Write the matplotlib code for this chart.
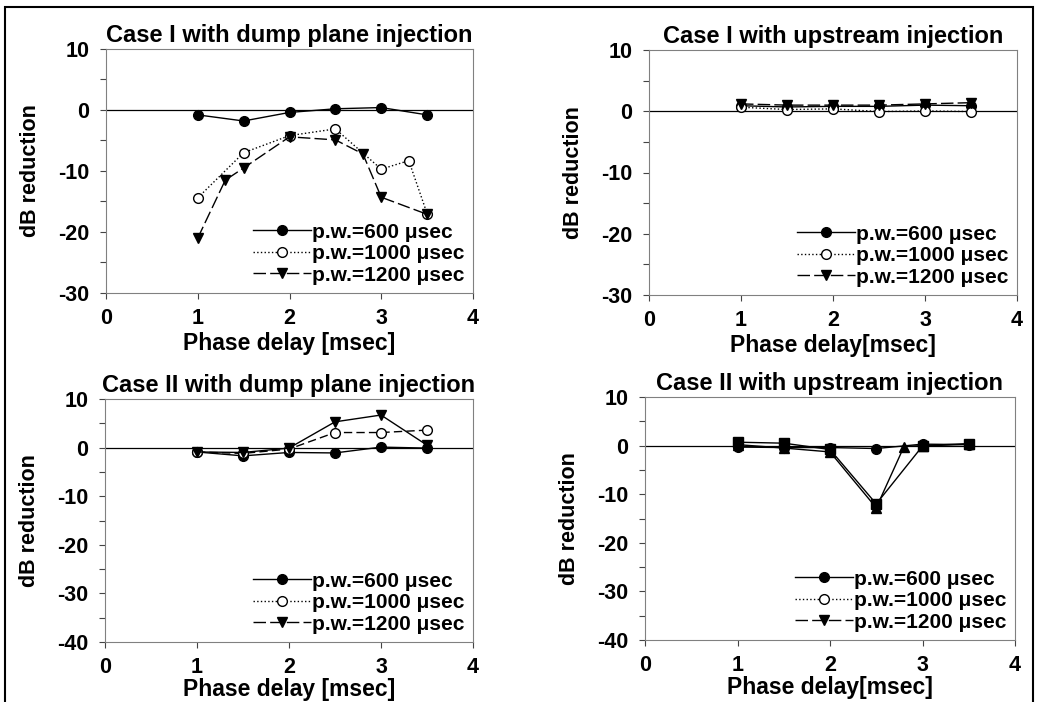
import matplotlib.pyplot as plt
from matplotlib.lines import Line2D
from matplotlib.patches import Rectangle

plt.rcParams['font.family'] = ['Liberation Sans', 'DejaVu Sans']
plt.rcParams['font.weight'] = 'bold'

# ── Data ──────────────────────────────────────────────────────────────────────
# Case I, dump plane injection
c1d_x600 = [1.0, 1.5, 2.0, 2.5, 3.0, 3.5]
c1d_y600 = [-0.8, -1.8, -0.4, 0.2, 0.4, -0.8]
c1d_x1000 = [1.0, 1.5, 2.0, 2.5, 3.0, 3.3, 3.5]
c1d_y1000 = [-14.4, -7.0, -4.2, -3.1, -9.7, -8.3, -17.0]
c1d_x1200 = [1.0, 1.3, 1.5, 2.0, 2.5, 2.8, 3.0, 3.5]
c1d_y1200 = [-21.0, -11.5, -9.5, -4.4, -4.9, -7.2, -14.3, -17.1]

# Case I, upstream injection
c1u_x = [1.0, 1.5, 2.0, 2.5, 3.0, 3.5]
c1u_y600 = [0.9, 0.7, 0.8, 0.8, 1.0, 0.9]
c1u_y1000 = [0.66, 0.28, 0.39, -0.05, 0.05, -0.05]
c1u_y1200 = [1.2, 1.0, 1.0, 1.0, 1.2, 1.4]

# Case II, dump plane injection
c2d_x = [1.0, 1.5, 2.0, 2.5, 3.0, 3.5]
c2d_y600 = [-0.9, -1.7, -1.0, -1.1, 0.1, -0.1]
c2d_y1000 = [-0.9, -1.2, -0.3, 3.1, 3.1, 3.6]
c2d_y1200 = [-0.9, -1.0, -0.1, 5.3, 6.7, 0.5]

# Case II, upstream injection
c2u_x600 = [1.0, 1.5, 2.0, 2.5, 3.0, 3.5]
c2u_y600 = [-0.3, -0.4, -0.4, -0.6, 0.3, 0.2]
c2u_x1000 = [1.0, 1.5, 2.0, 2.5, 3.0, 3.5]
c2u_y1000 = [0.7, 0.5, -0.8, -12.0, -0.1, 0.3]
c2u_x1200 = [1.0, 1.5, 2.0, 2.5, 2.8, 3.0, 3.5]
c2u_y1200 = [0.2, -0.5, -1.3, -12.8, -0.2, 0.0, 0.4]

labels = ["p.w.=600 \u03bcsec", "p.w.=1000 \u03bcsec", "p.w.=1200 \u03bcsec"]

# ── Styles ────────────────────────────────────────────────────────────────────
DASH = (0, (9, 3))
s600 = dict(color="black", lw=1.0, ls="-", marker="o", ms=7, mfc="black", mec="black")
s1000 = dict(color="black", lw=1.0, ls=":", marker="o", ms=7, mfc="white", mec="black")
s1200 = dict(color="black", lw=1.0, ls=DASH, marker="v", ms=7, mfc="black", mec="black")

fig = plt.figure(figsize=(10.39, 7.02), dpi=100)
W, H = 1039, 702


def make_axes(l, r, t, b):
    return fig.add_axes([l / W, 1 - b / H, (r - l) / W, (b - t) / H])


def setup(ax, title, xlabel, ylim, xlabelpad=2):
    ax.set_xlim(0, 4)
    ax.set_ylim(*ylim)
    ax.set_xticks([0, 1, 2, 3, 4])
    yt = list(range(ylim[0], ylim[1] + 1, 5))
    ax.set_yticks(yt)
    ax.set_yticklabels([str(v) if v % 10 == 0 else "" for v in yt])
    ax.tick_params(labelsize=15.5, length=4, width=0.8, direction="out", color="#444444")
    ax.tick_params(axis="x", pad=7)
    ax.tick_params(axis="y", pad=8)
    for lab in ax.get_xticklabels() + ax.get_yticklabels():
        lab.set_fontweight("bold")
    for sp in ax.spines.values():
        sp.set_color("#808080")
        sp.set_linewidth(0.8)
    ax.axhline(0, color="black", lw=0.9, zorder=1)
    ax.set_title(title, fontsize=17, fontweight="bold", pad=5)
    ax.set_xlabel(xlabel, fontsize=16.5, fontweight="bold", labelpad=xlabelpad)
    ax.set_ylabel("dB reduction", fontsize=15.5, fontweight="bold", labelpad=12)
    handles = [Line2D([], [], **s600), Line2D([], [], **s1000), Line2D([], [], **s1200)]
    ax.legend(handles, labels, loc="lower right", frameon=False,
              prop=dict(weight="bold", size=15), handlelength=2.8, handletextpad=0.05,
              labelspacing=0.12, borderaxespad=0.1, borderpad=0.3)


# Case I dump plane
ax1 = make_axes(106, 473, 49, 293)
ax1.plot(c1d_x600, c1d_y600, **s600)
ax1.plot(c1d_x1000, c1d_y1000, **s1000)
ax1.plot(c1d_x1200, c1d_y1200, **s1200)
setup(ax1, "Case I with dump plane injection", "Phase delay [msec]", (-30, 10))

# Case I upstream
ax2 = make_axes(649, 1017, 50, 295)
ax2.plot(c1u_x, c1u_y600, **s600)
ax2.plot(c1u_x, c1u_y1000, **s1000)
ax2.plot(c1u_x, c1u_y1200, **s1200)
setup(ax2, "Case I with upstream injection", "Phase delay[msec]", (-30, 10))

# Case II dump plane
ax3 = make_axes(105, 473, 399, 642)
ax3.plot(c2d_x, c2d_y600, **s600)
ax3.plot(c2d_x, c2d_y1000, **{**s1000, "ls": (0, (6, 3))})
ax3.plot(c2d_x, c2d_y1200, **{**s1200, "ls": "-"})
setup(ax3, "Case II with dump plane injection", "Phase delay [msec]", (-40, 10), xlabelpad=0)

# Case II upstream
ax4 = make_axes(645, 1015, 397, 640)
ax4.plot(c2u_x600, c2u_y600, **s600)
ax4.plot(c2u_x1000, c2u_y1000, **{**s600, "marker": "s"})
ax4.plot(c2u_x1200, c2u_y1200, **{**s600, "marker": "^"})
setup(ax4, "Case II with upstream injection", "Phase delay[msec]", (-40, 10), xlabelpad=0)

# outer frame
fig.patches.append(Rectangle((5 / W, -0.05), 1028 / W, 1.05 - 7 / H, transform=fig.transFigure,
                             fill=False, edgecolor="black", lw=1.5))

fig.savefig("out.png", dpi=100)
